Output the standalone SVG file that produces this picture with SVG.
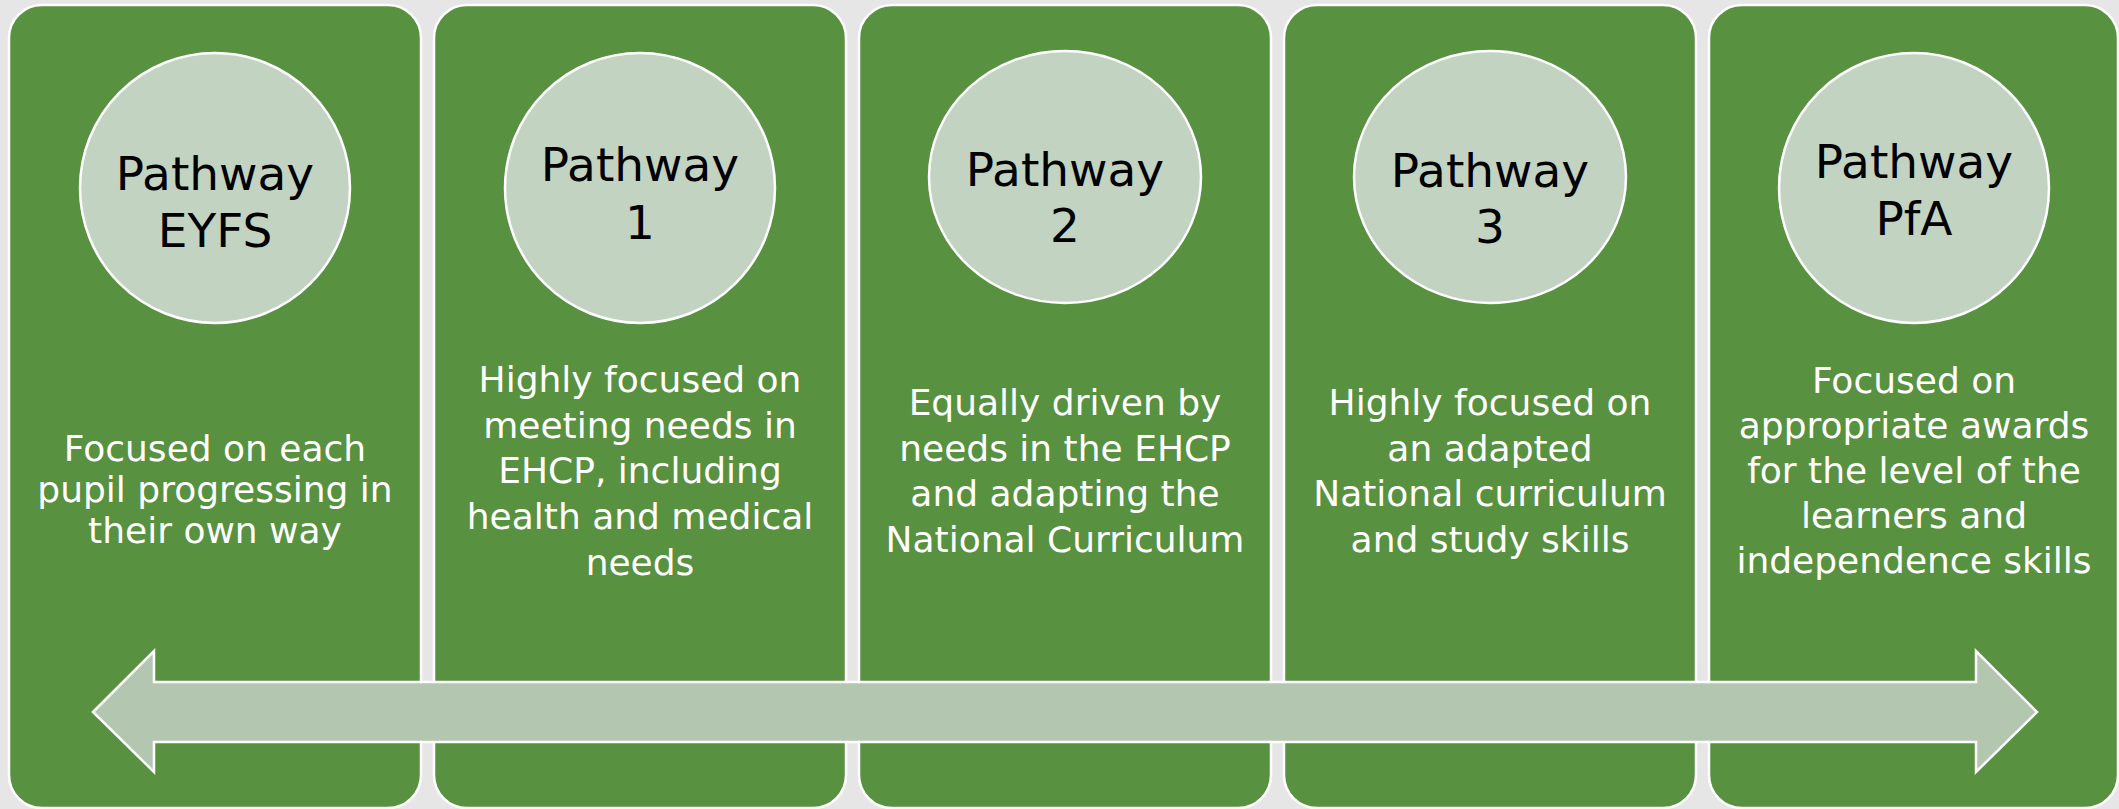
<svg xmlns="http://www.w3.org/2000/svg" width="2119" height="809" viewBox="0 0 2119 809">
<style>
.panel{fill:#589140;stroke:#ffffff;stroke-width:2.5}
.disc{fill:#C3D3C2;stroke:#ffffff;stroke-width:2.5}
.title{font-family:"DejaVu Sans",sans-serif;font-size:47px;fill:#000000;text-anchor:middle}
.body{font-family:"DejaVu Sans",sans-serif;font-size:36px;fill:#ffffff;text-anchor:middle}
.arrow{fill:#B3C7B0;stroke:#ffffff;stroke-width:2.5;stroke-linejoin:miter}
</style>
<rect x="0" y="0" width="2119" height="809" fill="#E6E6E6"/>
<g id="pathway-eyfs">
<rect class="panel" x="9" y="5" width="412" height="803" rx="33"/>
<circle class="disc" cx="215" cy="188" r="135"/>
<text class="title" x="215" y="190">Pathway</text>
<text class="title" x="215" y="247">EYFS</text>
<text class="body" x="215"><tspan x="215" y="461">Focused on each</tspan><tspan x="215" y="502">pupil progressing in</tspan><tspan x="215" y="543">their own way</tspan></text>
</g>
<g id="pathway-1">
<rect class="panel" x="434" y="5" width="412" height="803" rx="33"/>
<circle class="disc" cx="640" cy="188" r="135"/>
<text class="title" x="640" y="181">Pathway</text>
<text class="title" x="640" y="239">1</text>
<text class="body" x="640"><tspan x="640" y="392">Highly focused on</tspan><tspan x="640" y="438">meeting needs in</tspan><tspan x="640" y="483">EHCP, including</tspan><tspan x="640" y="529">health and medical</tspan><tspan x="640" y="575">needs</tspan></text>
</g>
<g id="pathway-2">
<rect class="panel" x="859" y="5" width="412" height="803" rx="33"/>
<ellipse class="disc" cx="1065" cy="177" rx="136" ry="126"/>
<text class="title" x="1065" y="186">Pathway</text>
<text class="title" x="1065" y="242">2</text>
<text class="body" x="1065"><tspan x="1065" y="415">Equally driven by</tspan><tspan x="1065" y="461">needs in the EHCP</tspan><tspan x="1065" y="506">and adapting the</tspan><tspan x="1065" y="552">National Curriculum</tspan></text>
</g>
<g id="pathway-3">
<rect class="panel" x="1284" y="5" width="412" height="803" rx="33"/>
<ellipse class="disc" cx="1490" cy="177" rx="136" ry="126"/>
<text class="title" x="1490" y="187">Pathway</text>
<text class="title" x="1490" y="243">3</text>
<text class="body" x="1490"><tspan x="1490" y="415">Highly focused on</tspan><tspan x="1490" y="461">an adapted</tspan><tspan x="1490" y="506">National curriculum</tspan><tspan x="1490" y="552">and study skills</tspan></text>
</g>
<g id="pathway-pfa">
<rect class="panel" x="1709" y="5" width="409" height="803" rx="33"/>
<circle class="disc" cx="1914" cy="188" r="135"/>
<text class="title" x="1914" y="178">Pathway</text>
<text class="title" x="1914" y="235">PfA</text>
<text class="body" x="1914"><tspan x="1914" y="393">Focused on</tspan><tspan x="1914" y="438">appropriate awards</tspan><tspan x="1914" y="483">for the level of the</tspan><tspan x="1914" y="528">learners and</tspan><tspan x="1914" y="573">independence skills</tspan></text>
</g>
<g id="connectors">
<polygon class="arrow" points="93,712 154,651 154,682 1976,682 1976,651 2037,712 1976,772 1976,742 154,742 154,772"/>
</g>
</svg>
